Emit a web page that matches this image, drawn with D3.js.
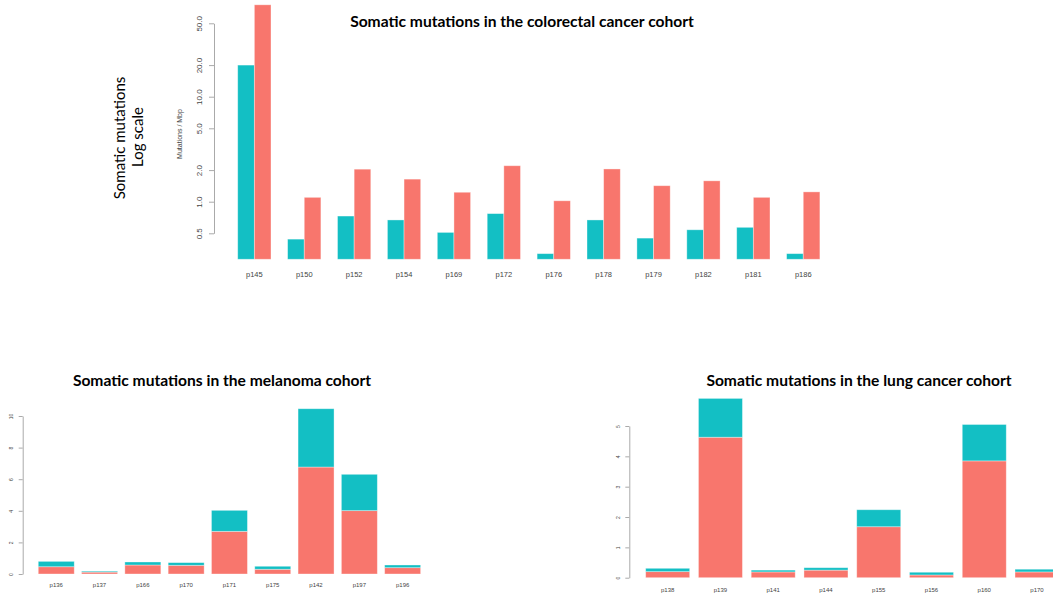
<!DOCTYPE html>
<html>
<head>
<meta charset="utf-8">
<script src="https://cdn.jsdelivr.net/npm/d3@7"></script>
<style>
  body { margin: 0; background: #fff; }
  svg { display: block; }
  .title { font-family: Lato, "Open Sans", sans-serif; font-weight: bold; fill: #000; }
  .tick text, .xlab { font-family: "Liberation Sans", Arial, sans-serif; fill: #444; }
  .domain, .tick line { stroke: #aaa; }
</style>
</head>
<body>
<div id="chart"></div>
<script>
// colorectal cohort (log scale, side by side)
const crcPatients = ['p145','p150','p152','p154','p169','p172','p176','p178','p179','p182','p181','p186'];
const crcTeal = [20.0, 0.44, 0.73, 0.67, 0.51, 0.77, 0.32, 0.67, 0.45, 0.54, 0.57, 0.32];
const crcRed  = [75.0, 1.10, 2.04, 1.64, 1.23, 2.20, 1.02, 2.05, 1.42, 1.58, 1.10, 1.24];
const crcTicks = [0.5, 1, 2, 5, 10, 20, 50];
const crcFloor = 0.283;

// melanoma cohort (stacked)
const melPatients = ['p136','p137','p166','p170','p171','p175','p142','p197','p196'];
const melRed  = [0.46, 0.12, 0.57, 0.55, 2.70, 0.30, 6.77, 4.01, 0.40];
const melTeal = [0.34, 0.06, 0.19, 0.17, 1.33, 0.19, 3.69, 2.30, 0.17];
const melTicks = [0, 2, 4, 6, 8, 10];

// lung cohort (stacked)
const lungPatients = ['p138','p139','p141','p144','p155','p156','p160','p170'];
const lungRed  = [0.20, 4.63, 0.19, 0.25, 1.68, 0.09, 3.85, 0.19];
const lungTeal = [0.11, 1.28, 0.06, 0.08, 0.56, 0.09, 1.20, 0.09];
const lungTicks = [0, 1, 2, 3, 4, 5];

const TEAL = '#13bfc4', RED = '#f8766d';

const svg = d3.select('#chart').append('svg')
    .attr('width', 1053).attr('height', 596);

// ---------- top: colorectal ----------
let crcG = svg.append('g');
let xCrc = d3.scaleBand().domain(crcPatients).range([229.4, 828.2])
    .paddingInner(0.333).paddingOuter(0.1665);
let xPair = d3.scaleBand().domain(['teal','red']).range([0, xCrc.bandwidth()]);
let yCrc = d3.scaleLog().domain([0.5, 50]).range([233.3, 23.3]);

let crcData = [];
crcPatients.forEach((p, i) => {
    crcData.push({ patient: p, kind: 'teal', value: crcTeal[i] });
    crcData.push({ patient: p, kind: 'red', value: crcRed[i] });
});
crcG.append('g').selectAll('rect').data(crcData).join('rect')
    .attr('x', d => xCrc(d.patient) + xPair(d.kind))
    .attr('width', xPair.bandwidth())
    .attr('y', d => yCrc(d.value))
    .attr('height', d => yCrc(crcFloor) - yCrc(d.value))
    .attr('fill', d => d.kind === 'teal' ? TEAL : RED)
    .attr('stroke', 'rgba(255,255,255,0.45)').attr('stroke-width', 0.8);

let crcAxis = crcG.append('g').attr('transform', 'translate(214,0)')
    .call(d3.axisLeft(yCrc).tickValues(crcTicks).tickFormat(d3.format('.1f'))
        .tickSize(5).tickSizeOuter(0));
crcAxis.selectAll('text')
    .attr('x', null).attr('dy', '0.35em').attr('text-anchor', 'middle')
    .attr('transform', 'translate(-15,0) rotate(-90)')
    .style('font-size', '8px');

crcG.append('g').selectAll('text').data(crcPatients).join('text')
    .attr('class', 'xlab')
    .attr('x', d => xCrc(d) + xCrc.bandwidth() / 2)
    .attr('y', 277)
    .attr('text-anchor', 'middle')
    .style('font-size', '7.5px')
    .text(d => d);

crcG.append('text').attr('class', 'xlab')
    .attr('transform', 'translate(182,134) rotate(-90)')
    .attr('text-anchor', 'middle')
    .style('font-size', '7px')
    .text('Mutations / Mbp');

crcG.append('text')
    .attr('transform', 'translate(125,138) rotate(-90)')
    .attr('text-anchor', 'middle')
    .style('font-family', 'Lato, sans-serif').style('font-size', '15px')
    .text('Somatic mutations');
crcG.append('text')
    .attr('transform', 'translate(143,137) rotate(-90)')
    .attr('text-anchor', 'middle')
    .style('font-family', 'Lato, sans-serif').style('font-size', '15px')
    .text('Log scale');

crcG.append('text').attr('class', 'title')
    .attr('x', 522).attr('y', 27)
    .attr('text-anchor', 'middle')
    .style('font-size', '15.6px')
    .text('Somatic mutations in the colorectal cancer cohort');

// ---------- stacked panels ----------
function drawStacked(opts) {
    let g = svg.append('g');
    let x = d3.scaleBand().domain(opts.patients).range(opts.xRange)
        .paddingInner(opts.pad).paddingOuter(opts.pad / 2);
    let y = d3.scaleLinear().domain(opts.yDomain).range(opts.yRange);

    let rows = opts.patients.map((p, i) => ({ patient: p, red: opts.red[i], teal: opts.teal[i] }));
    let stack = d3.stack().keys(['red', 'teal'])(rows);

    g.append('g').selectAll('g').data(stack).join('g')
        .attr('fill', s => s.key === 'red' ? RED : TEAL)
        .selectAll('rect').data(s => s).join('rect')
        .attr('x', d => x(d.data.patient))
        .attr('width', x.bandwidth())
        .attr('y', d => y(d[1]))
        .attr('height', d => y(d[0]) - y(d[1]))
        .attr('stroke', 'rgba(255,255,255,0.45)').attr('stroke-width', 0.8);

    let ax = g.append('g').attr('transform', `translate(${opts.axisX},0)`)
        .call(d3.axisLeft(y).tickValues(opts.ticks).tickFormat(d3.format('d'))
            .tickSize(4).tickSizeOuter(0));
    ax.selectAll('text')
        .attr('x', null).attr('dy', '0.35em').attr('text-anchor', 'middle')
        .attr('transform', 'translate(-11,0) rotate(-90)')
        .style('font-size', '5px');

    g.append('g').selectAll('text').data(opts.patients).join('text')
        .attr('class', 'xlab')
        .attr('x', d => x(d) + x.bandwidth() / 2)
        .attr('y', opts.labelY)
        .attr('text-anchor', 'middle')
        .style('font-size', '6px')
        .text(d => d);

    g.append('text').attr('class', 'title')
        .attr('x', opts.titleX).attr('y', opts.titleY)
        .attr('text-anchor', 'middle')
        .style('font-size', '15.6px')
        .text(opts.title);
}

drawStacked({
    patients: melPatients, red: melRed, teal: melTeal, ticks: melTicks,
    xRange: [34.6, 424.3], pad: 0.169,
    yDomain: [0, 10], yRange: [574, 416],
    axisX: 22.7, labelY: 587,
    title: 'Somatic mutations in the melanoma cohort', titleX: 222, titleY: 386
});

drawStacked({
    patients: lungPatients, red: lungRed, teal: lungTeal, ticks: lungTicks,
    xRange: [641.3, 1063.4], pad: 0.166,
    yDomain: [0, 5], yRange: [577.7, 426],
    axisX: 629.3, labelY: 592,
    title: 'Somatic mutations in the lung cancer cohort', titleX: 859, titleY: 386
});
</script>
</body>
</html>
